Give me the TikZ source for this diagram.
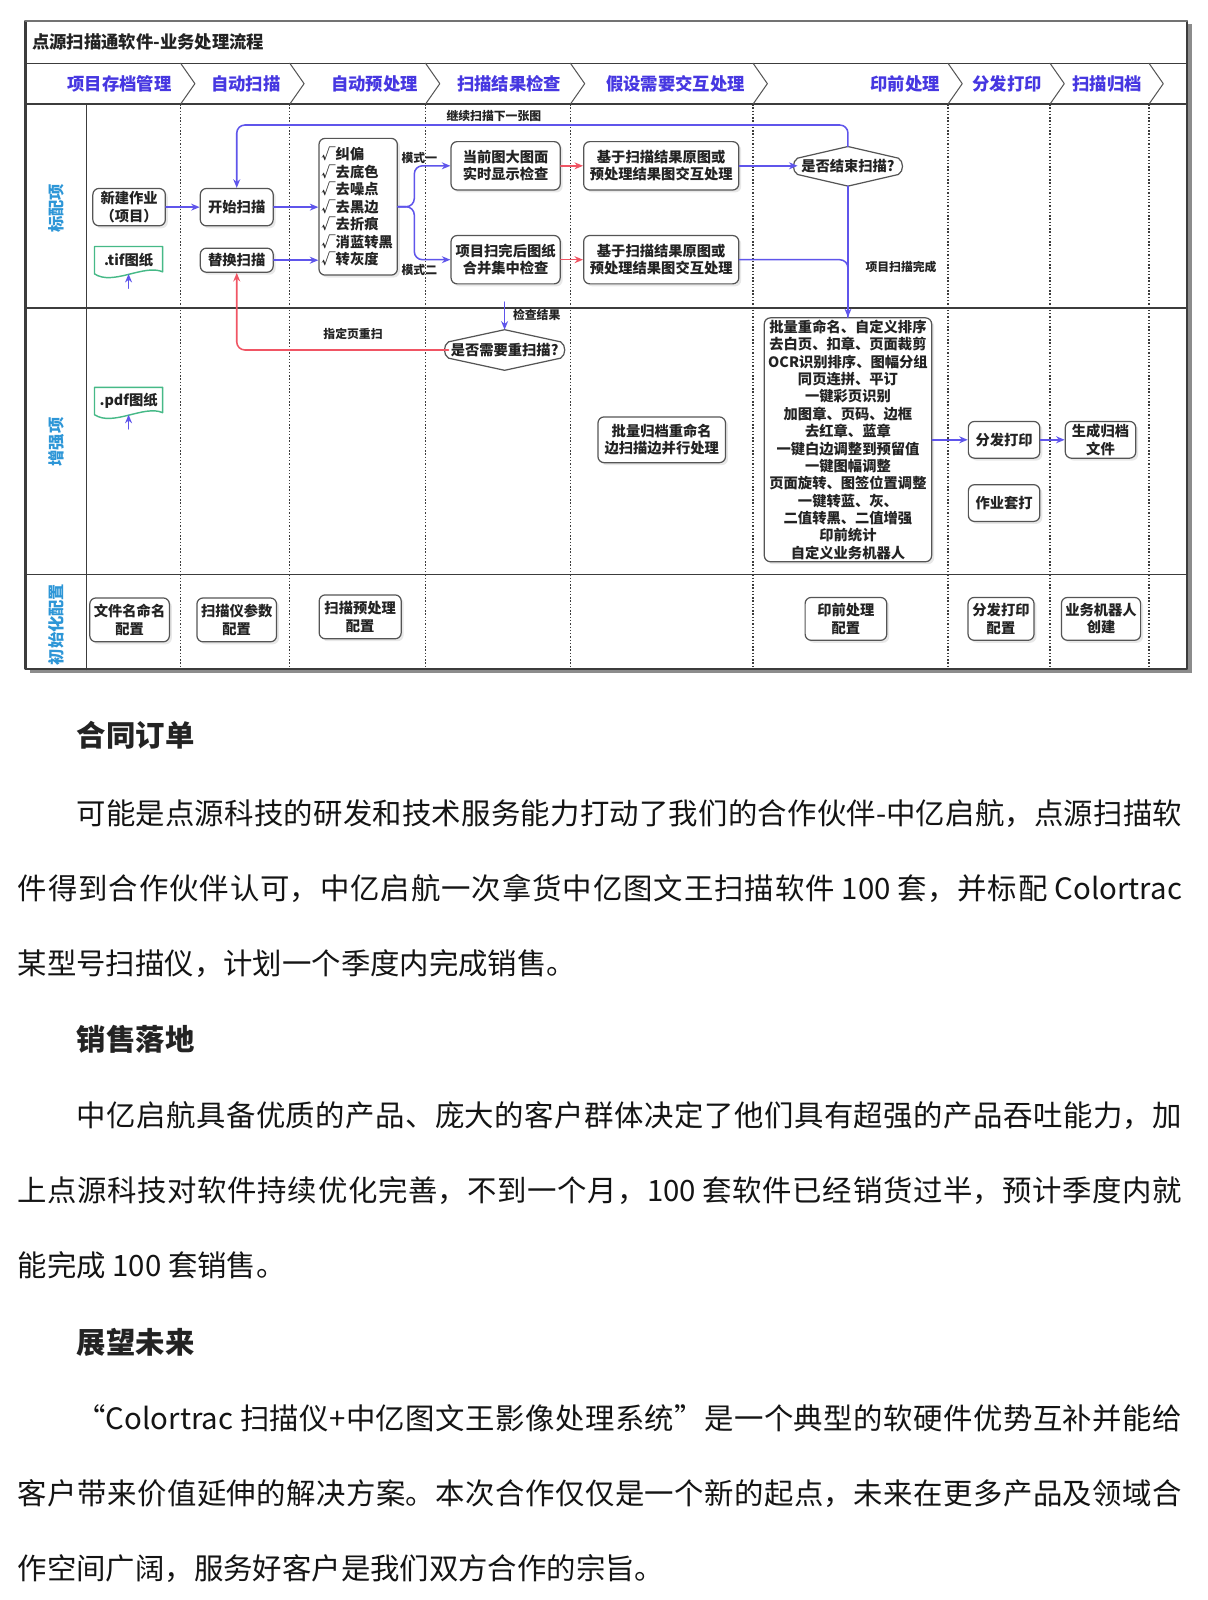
\documentclass[tikz,border=0pt]{standalone}
\usepackage{fontspec}
\setmainfont{Noto Sans CJK SC}
\usetikzlibrary{arrows.meta,calc,shadows}
\XeTeXlinebreaklocale "zh"
\XeTeXlinebreakskip=0pt plus 3pt minus 0.4pt
\tolerance=9999
\definecolor{fg}{RGB}{60,60,60}
\definecolor{mu}{RGB}{85,85,85}
\definecolor{ink}{RGB}{35,35,35}
\definecolor{flowc}{RGB}{95,85,235}
\definecolor{redc}{RGB}{240,85,100}
\definecolor{phc}{RGB}{70,55,225}
\definecolor{lanec}{RGB}{45,150,215}
\definecolor{docc}{RGB}{70,185,135}
\tikzset{
  every picture/.style={line cap=round, line join=round,
    >={Stealth[length=4.2pt,width=3.4pt]}},
  % Linientypen
  rahmen/.style={fg, line width=0.7pt},
  chev/.style={mu, line width=0.5pt},
  trenn/.style={fg, line width=0.6pt, dash pattern=on 0.7pt off 0.9pt, line cap=butt},
  flow/.style={flowc, line width=0.75pt, ->, rounded corners=4pt},
  flowline/.style={flowc, line width=0.75pt, rounded corners=4pt},
  back/.style={redc, line width=0.75pt, ->, rounded corners=4pt},
  decline/.style={mu, line width=0.6pt},
  docline/.style={docc, line width=0.7pt},
  % Knoten
  box/.style={draw=mu, fill=white, rounded corners=3pt, line width=0.6pt, align=center,
    inner sep=1pt, text=ink, font=\bfseries\fontsize{7}{8.5}\selectfont,
    drop shadow={shadow xshift=1.2pt, shadow yshift=-1.2pt, opacity=0.18}},
  doc/.style={inner sep=1pt, text=ink, font=\bfseries\fontsize{7}{8.5}\selectfont},
  dec/.style={inner sep=0pt, text=ink, font=\bfseries\fontsize{7}{8.5}\selectfont},
  lbl/.style={inner sep=1pt, text=ink, font=\bfseries\fontsize{5.8}{7}\selectfont},
  titel/.style={inner sep=0pt, text=ink, font=\bfseries\fontsize{8.5}{10}\selectfont},
  phase/.style={inner sep=0pt, text=phc, font=\bfseries\fontsize{8.5}{10}\selectfont},
  lanelbl/.style={rotate=90, inner sep=0pt, text=lanec, font=\bfseries\fontsize{8}{10}\selectfont},
  ueber/.style={inner sep=0pt, text=ink, font=\bfseries\fontsize{14.4}{18}\selectfont},
  para/.style={inner sep=0pt, text=black!92, text width=570.5pt, align=justify,
    font=\fontsize{14.4}{36.75}\selectfont},
}

\begin{document}
\begin{tikzpicture}[x=0.5pt, y=-0.5pt]
  % Hintergrund und Rahmen
  \fill[white] (0,0) rectangle (1183,1568);
  \useasboundingbox (0,0) rectangle (1183,1568);
  \fill[black!45] (1163,24) rectangle (1168,660);
  \fill[black!45] (29,656) rectangle (1168,660);
  \draw[rahmen, line width=1pt] (25,20.5) rectangle (1163,656);
  \draw[rahmen, black!55, line width=1.2pt] (25,20.5) -- (1163,20.5);
  \draw[rahmen] (25,62) -- (1163,62);
  \draw[rahmen] (25,102) -- (1163,102);
  \draw[rahmen] (25,302) -- (1163,302);
  \draw[rahmen] (25,563) -- (1163,563);
  \draw[rahmen] (84.5,102) -- (84.5,656);
  % Phasen und Spalten
  \foreach \x in {177,284,417,559,738,929,1029,1126}{
    \draw[chev] (\x,62) -- (\x+14,82) -- (\x,102);
    \draw[trenn] (\x,102) -- (\x,656);
  }
  \node[titel, anchor=west] (kopf) at (31,41) {点源扫描通软件-业务处理流程};
  \node[phase] (ph1) at (117,82) {项目存档管理};
  \node[phase] (ph2) at (241,82) {自动扫描};
  \node[phase] (ph3) at (367,82) {自动预处理};
  \node[phase] (ph4) at (499,82) {扫描结果检查};
  \node[phase] (ph5) at (662,82) {假设需要交互处理};
  \node[phase] (ph6) at (887,82) {印前处理};
  \node[phase] (ph7) at (987,82) {分发打印};
  \node[phase] (ph8) at (1085,82) {扫描归档};
  % Bahnen
  \node[lanelbl] (bahn1) at (55,204) {标配项};
  \node[lanelbl] (bahn2) at (55,433) {增强项};
  \node[lanelbl] (bahn3) at (55,612) {初始化配置};

  % Bahn 1: Standard
  \node[box, minimum width=35.5pt, minimum height=18.3pt] (neu) at (126.5,203) {新建作业\\（项目）};
  \node[doc, minimum width=33pt, minimum height=13pt] (tif) at (126,255) {.tif图纸};
  \draw[docline] (tif.north west) -- (tif.north east) -- ([yshift=1pt]tif.south east)
    .. controls ([xshift=-9pt,yshift=5pt]tif.south east) and ([xshift=9pt,yshift=-6pt]tif.south west) .. (tif.south west) -- cycle;
  \node[box, minimum width=35.7pt, minimum height=18.3pt] (start) at (232,203) {开始扫描};
  \node[box, minimum width=35.7pt, minimum height=11.8pt] (ersatz) at (232,255) {替换扫描};
  \node[box, align=left, text width=36pt, inner sep=1.2pt, minimum height=67pt,
    font=\bfseries\fontsize{7}{8.6}\selectfont] (vorv) at (351,202.6)
    {√纠偏\\√去底色\\√去噪点\\√去黑边\\√去折痕\\√消蓝转黑\\√转灰度};
  \node[box, minimum width=53.5pt, minimum height=23.7pt] (live) at (495.5,162.5) {当前图大图面\\实时显示检查};
  \node[box, minimum width=53.5pt, minimum height=23.7pt] (merge) at (495.5,254.5) {项目扫完后图纸\\合并集中检查};
  \node[box, minimum width=76pt, minimum height=23.7pt] (inter1) at (648,162.5) {基于扫描结果原图或\\预处理结果图交互处理};
  \node[box, minimum width=76pt, minimum height=23.7pt] (inter2) at (648,254.5) {基于扫描结果原图或\\预处理结果图交互处理};
  \node[dec, minimum width=49pt, minimum height=19pt] (ende) at (831,163) {是否结束扫描?};
  \draw[decline] ([yshift=4pt]ende.west) -- (ende.north) -- ([yshift=4pt]ende.east)
    to[bend left=60] ([yshift=-4pt]ende.east) -- (ende.south) -- ([yshift=-4pt]ende.west) to[bend left=60] cycle;

  % Bahn 2: Erweiterung
  \node[doc, minimum width=33pt, minimum height=13pt] (pdf) at (126,393) {.pdf图纸};
  \draw[docline] (pdf.north west) -- (pdf.north east) -- ([yshift=1pt]pdf.south east)
    .. controls ([xshift=-9pt,yshift=5pt]pdf.south east) and ([xshift=9pt,yshift=-6pt]pdf.south west) .. (pdf.south west) -- cycle;
  \node[dec, minimum width=54.5pt, minimum height=19.5pt] (reps) at (494.5,343) {是否需要重扫描?};
  \draw[decline] ([yshift=4pt]reps.west) -- (reps.north) -- ([yshift=4pt]reps.east)
    to[bend left=60] ([yshift=-4pt]reps.east) -- (reps.south) -- ([yshift=-4pt]reps.west) to[bend left=60] cycle;
  \node[box, minimum width=62.5pt, minimum height=22.4pt] (archiv) at (648.5,431) {批量归档重命名\\边扫描边并行处理};
  \node[box, minimum width=82pt, minimum height=119.5pt] (druck) at (831,431)
    {批量重命名、自定义排序\\去白页、扣章、页面裁剪\\OCR识别排序、图幅分组\\同页连拼、平订\\一键彩页识别\\加图章、页码、边框\\去红章、蓝章\\一键白边调整到预留值\\一键图幅调整\\页面旋转、图签位置调整\\一键转蓝、灰、\\二值转黑、二值增强\\印前统计\\自定义业务机器人};
  \node[box, minimum width=35pt, minimum height=18pt] (verteil) at (984,431) {分发打印};
  \node[box, minimum width=35pt, minimum height=18pt] (satz) at (984,493) {作业套打};
  \node[box, minimum width=34.5pt, minimum height=18pt] (archf) at (1078.5,431) {生成归档\\文件};

  % Bahn 3: Konfiguration
  \node[box, minimum width=39pt, minimum height=21.5pt] (k1) at (127,607.5) {文件名命名\\配置};
  \node[box, minimum width=39pt, minimum height=21.5pt] (k2) at (232,607.5) {扫描仪参数\\配置};
  \node[box, minimum width=40.2pt, minimum height=21.5pt] (k3) at (353,604.5) {扫描预处理\\配置};
  \node[box, minimum width=40pt, minimum height=21pt] (k4) at (829,606.5) {印前处理\\配置};
  \node[box, minimum width=32.3pt, minimum height=21pt] (k5) at (981,606.5) {分发打印\\配置};
  \node[box, minimum width=38.8pt, minimum height=21pt] (k6) at (1079,606.5) {业务机器人\\创建};

  % Verbindungen
  \coordinate (tifin) at ([yshift=-7pt]tif.south);
  \coordinate (pdfin) at ([yshift=-7pt]pdf.south);
  \draw[flow] (tifin) -- (tif.south);
  \draw[flow] (pdfin) -- (pdf.south);
  \draw[flow] (neu.east) -- (neu.east -| start.west);
  \draw[flow] (start.east) -- (start.east -| vorv.west);
  \draw[flow] (ersatz.east) -- (ersatz.east -| vorv.west);
  \coordinate (gabel) at ($(vorv.east)+(8pt,0)$);
  \draw[flow] (vorv.east) -- (gabel) |- (live.west);
  \draw[flow] (vorv.east) -- (gabel) |- (merge.west);
  \draw[back] (live.east) -- (inter1.west);
  \draw[back] (merge.east) -- (inter2.west);
  \draw[flow] (inter1.east) -- (inter1.east -| ende.west);
  \coordinate (oben) at (0,122.5);
  \draw[flow] (ende.north) -- (ende.north |- oben) -| (start.north);
  \draw[flowline] (inter2.east) -| (druck.north);
  \draw[flow] (ende.south) -- (ende.south |- druck.north);
  \coordinate (pruef) at (494.5,296);
  \draw[flow] (pruef) -- (reps.north);
  \draw[back] (reps.west) -| (ersatz.south);
  \draw[flow] (druck.east |- verteil) -- (verteil.west);
  \draw[flow] (verteil.east) -- (archf.west);
  % Beschriftungen
  \node[lbl] (weiter) at (484,114) {继续扫描下一张图};
  \node[lbl] (m1) at (411,155) {模式一};
  \node[lbl] (m2) at (411,265) {模式二};
  \node[lbl] (fertig) at (883,262) {项目扫描完成};
  \node[lbl] (pruefl) at (526,309) {检查结果};
  \node[lbl] (neuscan) at (346,327) {指定页重扫};

  % Fliesstext
  \node[ueber, anchor=base west] (h1) at (75,732) {合同订单};
  \node[para, anchor=base west] (t1) at (17,808) {\hspace*{2em}可能是点源科技的研发和技术服务能力打动了我们的合作伙伴-中亿启航，点源扫描软\linebreak 件得到合作伙伴认可，中亿启航一次拿货中亿图文王扫描软件 100 套，并标配 Colortrac\linebreak 某型号扫描仪，计划一个季度内完成销售。};
  \node[ueber, anchor=base west] (h2) at (75,1029) {销售落地};
  \node[para, anchor=base west] (t2) at (17,1104) {\hspace*{2em}中亿启航具备优质的产品、庞大的客户群体决定了他们具有超强的产品吞吐能力，加\linebreak 上点源科技对软件持续优化完善，不到一个月，100 套软件已经销货过半，预计季度内就\linebreak 能完成 100 套销售。};
  \node[ueber, anchor=base west] (h3) at (75,1326) {展望未来};
  \node[para, anchor=base west] (t3) at (17,1401) {\hspace*{2em}“Colortrac 扫描仪+中亿图文王影像处理系统”是一个典型的软硬件优势互补并能给\linebreak 客户带来价值延伸的解决方案。本次合作仅仅是一个新的起点，未来在更多产品及领域合\linebreak 作空间广阔，服务好客户是我们双方合作的宗旨。};
\end{tikzpicture}
\end{document}
